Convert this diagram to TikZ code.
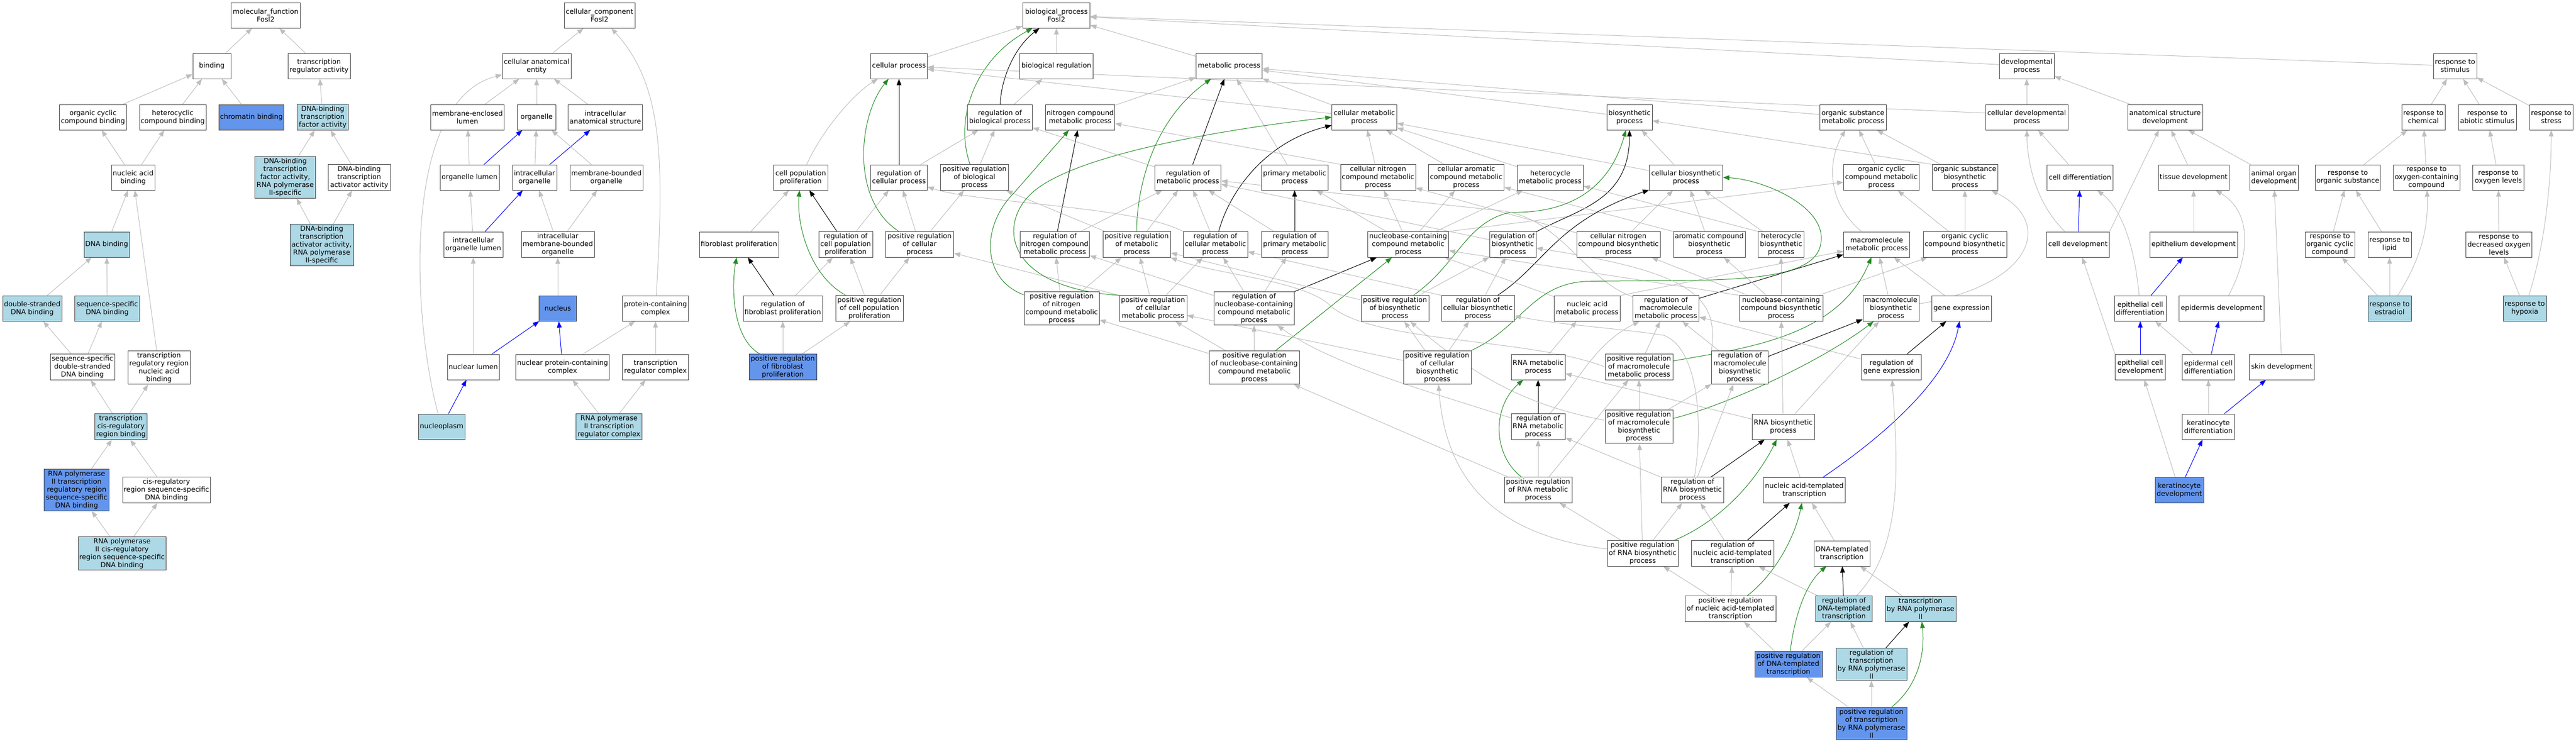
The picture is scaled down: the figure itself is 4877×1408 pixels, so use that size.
\documentclass[tikz,border=0pt]{standalone}
\usepackage{fontspec}
\setmainfont{DejaVu Sans}
\usepackage{tikz}
\usetikzlibrary{arrows.meta, backgrounds}

\definecolor{edgegray}{HTML}{BEBEBE}
\definecolor{annblue}{HTML}{6495ED}
\definecolor{ancblue}{HTML}{ADD8E6}
\definecolor{posgreen}{HTML}{228B22}

\tikzset{
	go/.style = {draw = black!75, line width = 0.9pt, rectangle, fill = white, align = center, inner xsep = 2pt, inner ysep = 3pt, minimum height = 48pt, font = \fontsize{13}{15}\selectfont},
	goann/.style = {go, fill = annblue},
	goanc/.style = {go, fill = ancblue},
	isa/.style = {draw = edgegray, line width = 1pt, -{Triangle[length = 12pt, width = 9pt]}},
	regs/.style = {isa, draw = black},
	posregs/.style = {isa, draw = posgreen},
	partof/.style = {isa, draw = blue}
}

\begin{document}
\begin{tikzpicture}[x = 1pt, y = -1pt]
	\useasboundingbox (0, 0) rectangle (4877, 1408);

	\node[go, minimum width = 131pt] (mf) at (503, 29) {molecular\_function\\Fosl2};
	\node[go, minimum width = 72pt] (binding) at (401, 125) {binding};
	\node[go, minimum width = 118pt] (tra) at (604, 125) {transcription\\regulator activity};
	\node[go, minimum width = 127pt] (occb) at (176, 222) {organic cyclic\\compound binding};
	\node[go, minimum width = 126pt] (hcb) at (327, 222) {heterocyclic\\compound binding};
	\node[goann, minimum width = 123pt] (chrom) at (476, 222) {chromatin binding};
	\node[goanc, minimum width = 97pt] (dbtf) at (611, 222) {DNA-binding\\transcription\\factor activity};
	\node[go, minimum width = 82pt] (nab) at (252, 336) {nucleic acid\\binding};
	\node[goanc, minimum width = 115pt] (dbtf2) at (540, 336) {DNA-binding\\transcription\\factor activity,\\RNA polymerase\\II-specific};
	\node[go, minimum width = 118pt] (dbta) at (680, 336) {DNA-binding\\transcription\\activator activity};
	\node[goanc, minimum width = 86pt] (dnab) at (202, 463) {DNA binding};
	\node[goanc, minimum width = 120pt] (dbta2) at (609, 464) {DNA-binding\\transcription\\activator activity,\\RNA polymerase\\II-specific};
	\node[goanc, minimum width = 112pt] (dsdb) at (61, 584) {double-stranded\\DNA binding};
	\node[goanc, minimum width = 123pt] (ssdb) at (203, 584) {sequence-specific\\DNA binding};
	\node[go, minimum width = 122pt] (ssds) at (156, 695) {sequence-specific\\double-stranded\\DNA binding};
	\node[go, minimum width = 118pt] (trrn) at (301, 696) {transcription\\regulatory region\\nucleic acid\\binding};
	\node[goanc, minimum width = 99pt] (tcrb) at (229, 808) {transcription\\cis-regulatory\\region binding};
	\node[goann, minimum width = 123pt] (p2trr) at (145, 928) {RNA polymerase\\II transcription\\regulatory region\\sequence-specific\\DNA binding};
	\node[go, minimum width = 166pt] (crss) at (315, 928) {cis-regulatory\\region sequence-specific\\DNA binding};
	\node[goanc, minimum width = 166pt] (p2cr) at (231, 1048) {RNA polymerase\\II cis-regulatory\\region sequence-specific\\DNA binding};

	\node[go, minimum width = 134pt] (cc) at (1135, 29) {cellular\_component\\Fosl2};
	\node[go, minimum width = 130pt] (cae) at (1016, 125) {cellular anatomical\\entity};
	\node[go, minimum width = 139pt] (mel) at (885, 222) {membrane-enclosed\\lumen};
	\node[go, minimum width = 73pt] (org) at (1016, 222) {organelle};
	\node[go, minimum width = 141pt] (ias) at (1146, 222) {intracellular\\anatomical structure};
	\node[go, minimum width = 112pt] (orgl) at (889, 336) {organelle lumen};
	\node[go, minimum width = 84pt] (iorg) at (1012, 336) {intracellular\\organelle};
	\node[go, minimum width = 138pt] (mbo) at (1148, 336) {membrane-bounded\\organelle};
	\node[go, minimum width = 112pt] (iol) at (896, 463) {intracellular\\organelle lumen};
	\node[go, minimum width = 138pt] (imbo) at (1056, 463) {intracellular\\membrane-bounded\\organelle};
	\node[goann, minimum width = 71pt] (nucleus) at (1056, 584) {nucleus};
	\node[go, minimum width = 125pt] (pcc) at (1241, 584) {protein-containing\\complex};
	\node[go, minimum width = 98pt] (nlum) at (896, 695) {nuclear lumen};
	\node[go, minimum width = 177pt] (npcc) at (1065, 695) {nuclear protein-containing\\complex};
	\node[go, minimum width = 125pt] (trc) at (1241, 695) {transcription\\regulator complex};
	\node[goanc, minimum width = 88pt] (nplasm) at (836, 808) {nucleoplasm};
	\node[goanc, minimum width = 125pt] (p2trc) at (1153, 808) {RNA polymerase\\II transcription\\regulator complex};

	\node[go, minimum width = 103pt] (cpp) at (1516, 336) {cell population\\proliferation};
	\node[go, minimum width = 150pt] (fp) at (1399, 463) {fibroblast proliferation};
	\node[go, minimum width = 102pt] (rcpp) at (1601, 463) {regulation of\\cell population\\proliferation};
	\node[go, minimum width = 150pt] (rfp) at (1482, 584) {regulation of\\fibroblast proliferation};
	\node[go, minimum width = 128pt] (prcpp) at (1646, 584) {positive regulation\\of cell population\\proliferation};
	\node[goann, minimum width = 128pt] (prfp) at (1482, 695) {positive regulation\\of fibroblast\\proliferation};

	\node[go, minimum width = 127pt] (bp) at (2000, 29) {biological\_process\\Fosl2};
	\node[go, minimum width = 107pt] (cp) at (1702, 125) {cellular process};
	\node[go, minimum width = 139pt] (br) at (2000, 125) {biological regulation};
	\node[go, minimum width = 125pt] (mp) at (2327, 125) {metabolic process};
	\node[go, minimum width = 104pt] (devp) at (3837, 125) {developmental\\process};
	\node[go, minimum width = 82pt] (rstim) at (4648, 125) {response to\\stimulus};
	\node[go, minimum width = 123pt] (rbp) at (1893, 222) {regulation of\\biological process};
	\node[go, minimum width = 131pt] (ncmp) at (2045, 222) {nitrogen compound\\metabolic process};
	\node[go, minimum width = 123pt] (cmp) at (2583, 222) {cellular metabolic\\process};
	\node[go, minimum width = 86pt] (bsp) at (3085, 222) {biosynthetic\\process};
	\node[go, minimum width = 126pt] (osmp) at (3508, 222) {organic substance\\metabolic process};
	\node[go, minimum width = 156pt] (cdp) at (3837, 222) {cellular developmental\\process};
	\node[go, minimum width = 142pt] (asd) at (4099, 222) {anatomical structure\\development};
	\node[go, minimum width = 82pt] (rchem) at (4588, 222) {response to\\chemical};
	\node[go, minimum width = 110pt] (rabio) at (4709, 222) {response to\\abiotic stimulus};
	\node[go, minimum width = 82pt] (rstress) at (4830, 222) {response to\\stress};

	\node[go, minimum width = 107pt] (rcp) at (1702, 336) {regulation of\\cellular process};
	\node[go, minimum width = 129pt] (prbp) at (1845, 336) {positive regulation\\of biological\\process};
	\node[go, minimum width = 125pt] (rmp) at (2249, 336) {regulation of\\metabolic process};
	\node[go, minimum width = 126pt] (pmp) at (2451, 336) {primary metabolic\\process};
	\node[go, minimum width = 142pt] (cncmp) at (2609, 336) {cellular nitrogen\\compound metabolic\\process};
	\node[go, minimum width = 143pt] (camp) at (2776, 336) {cellular aromatic\\compound metabolic\\process};
	\node[go, minimum width = 125pt] (hmp) at (2935, 336) {heterocycle\\metabolic process};
	\node[go, minimum width = 139pt] (cbp) at (3192, 336) {cellular biosynthetic\\process};
	\node[go, minimum width = 143pt] (occmp) at (3562, 336) {organic cyclic\\compound metabolic\\process};
	\node[go, minimum width = 124pt] (osbp) at (3720, 336) {organic substance\\biosynthetic\\process};
	\node[go, minimum width = 125pt] (cdiff) at (3938, 336) {cell differentiation};
	\node[go, minimum width = 134pt] (tdev) at (4153, 336) {tissue development};
	\node[go, minimum width = 92pt] (aod) at (4305, 336) {animal organ\\development};
	\node[go, minimum width = 123pt] (rorg) at (4445, 336) {response to\\organic substance};
	\node[go, minimum width = 126pt] (roxc) at (4594, 336) {response to\\oxygen-containing\\compound};
	\node[go, minimum width = 97pt] (roxl) at (4730, 336) {response to\\oxygen levels};

	\node[go, minimum width = 129pt] (prcp) at (1741, 463) {positive regulation\\of cellular\\process};
	\node[go, minimum width = 131pt] (rncmp) at (1997, 463) {regulation of\\nitrogen compound\\metabolic process};
	\node[go, minimum width = 128pt] (prmp) at (2152, 463) {positive regulation\\of metabolic\\process};
	\node[go, minimum width = 122pt] (rcmp) at (2301, 463) {regulation of\\cellular metabolic\\process};
	\node[go, minimum width = 126pt] (rpmp) at (2451, 463) {regulation of\\primary metabolic\\process};
	\node[go, minimum width = 153pt] (nbcmp) at (2666, 463) {nucleobase-containing\\compound metabolic\\process};
	\node[go, minimum width = 88pt] (rbsp) at (2864, 463) {regulation of\\biosynthetic\\process};
	\node[go, minimum width = 158pt] (cncbp) at (3064, 463) {cellular nitrogen\\compound biosynthetic\\process};
	\node[go, minimum width = 136pt] (acbp) at (3236, 463) {aromatic compound\\biosynthetic\\process};
	\node[go, minimum width = 87pt] (hbp) at (3372, 463) {heterocycle\\biosynthetic\\process};
	\node[go, minimum width = 125pt] (mmp) at (3553, 463) {macromolecule\\metabolic process};
	\node[go, minimum width = 158pt] (occbp) at (3720, 463) {organic cyclic\\compound biosynthetic\\process};
	\node[go, minimum width = 119pt] (cdev) at (3934, 463) {cell development};
	\node[go, minimum width = 166pt] (edev) at (4153, 463) {epithelium development};
	\node[go, minimum width = 94pt] (rocc) at (4411, 463) {response to\\organic cyclic\\compound};
	\node[go, minimum width = 82pt] (rlip) at (4524, 463) {response to\\lipid};
	\node[go, minimum width = 125pt] (rdox) at (4731, 463) {response to\\decreased oxygen\\levels};

	\node[go, minimum width = 142pt] (prncmp) at (2010, 584) {positive regulation\\of nitrogen\\compound metabolic\\process};
	\node[go, minimum width = 128pt] (prcmp) at (2183, 584) {positive regulation\\of cellular\\metabolic process};
	\node[go, minimum width = 152pt] (rnbcmp) at (2374, 584) {regulation of\\nucleobase-containing\\compound metabolic\\process};
	\node[go, minimum width = 128pt] (prbsp) at (2641, 584) {positive regulation\\of biosynthetic\\process};
	\node[go, minimum width = 138pt] (rcbp) at (2798, 584) {regulation of\\cellular biosynthetic\\process};
	\node[go, minimum width = 125pt] (namp) at (3005, 584) {nucleic acid\\metabolic process};
	\node[go, minimum width = 125pt] (rmmp) at (3154, 584) {regulation of\\macromolecule\\metabolic process};
	\node[go, minimum width = 158pt] (nbcbp) at (3372, 584) {nucleobase-containing\\compound biosynthetic\\process};
	\node[go, minimum width = 106pt] (mbp) at (3580, 584) {macromolecule\\biosynthetic\\process};
	\node[go, minimum width = 113pt] (gexp) at (3714, 584) {gene expression};
	\node[go, minimum width = 98pt] (ecd) at (4052, 584) {epithelial cell\\differentiation};
	\node[go, minimum width = 161pt] (epd) at (4206, 584) {epidermis development};
	\node[goanc, minimum width = 82pt] (restr) at (4524, 584) {response to\\estradiol};
	\node[goanc, minimum width = 82pt] (rhyp) at (4780, 584) {response to\\hypoxia};

	\node[go, minimum width = 171pt] (prnbcmp) at (2375, 696) {positive regulation\\of nucleobase-containing\\compound metabolic\\process};
	\node[go, minimum width = 128pt] (prcbp) at (2721, 696) {positive regulation\\of cellular\\biosynthetic\\process};
	\node[go, minimum width = 102pt] (rnamp) at (2912, 695) {RNA metabolic\\process};
	\node[go, minimum width = 128pt] (prmmp) at (3103, 695) {positive regulation\\of macromolecule\\metabolic process};
	\node[go, minimum width = 107pt] (rmbp) at (3294, 696) {regulation of\\macromolecule\\biosynthetic\\process};
	\node[go, minimum width = 113pt] (rgexp) at (3581, 695) {regulation of\\gene expression};
	\node[go, minimum width = 95pt] (ecdev) at (4052, 695) {epithelial cell\\development};
	\node[go, minimum width = 99pt] (epcd) at (4181, 695) {epidermal cell\\differentiation};
	\node[go, minimum width = 123pt] (skin) at (4320, 695) {skin development};

	\node[go, minimum width = 102pt] (rrnamp) at (2912, 808) {regulation of\\RNA metabolic\\process};
	\node[go, minimum width = 128pt] (prmbp) at (3103, 808) {positive regulation\\of macromolecule\\biosynthetic\\process};
	\node[go, minimum width = 118pt] (rnabp) at (3376, 808) {RNA biosynthetic\\process};
	\node[go, minimum width = 99pt] (kdiff) at (4181, 808) {keratinocyte\\differentiation};

	\node[go, minimum width = 128pt] (prrnamp) at (2912, 928) {positive regulation\\of RNA metabolic\\process};
	\node[go, minimum width = 118pt] (rrnabp) at (3204, 928) {regulation of\\RNA biosynthetic\\process};
	\node[go, minimum width = 155pt] (natt) at (3416, 928) {nucleic acid-templated\\transcription};
	\node[goann, minimum width = 92pt] (kdev) at (4126, 928) {keratinocyte\\development};

	\node[go, minimum width = 134pt] (prrnabp) at (3110, 1048) {positive regulation\\of RNA biosynthetic\\process};
	\node[go, minimum width = 156pt] (rnatt) at (3280, 1048) {regulation of\\nucleic acid-templated\\transcription};
	\node[go, minimum width = 106pt] (dtt) at (3487, 1048) {DNA-templated\\transcription};

	\node[go, minimum width = 172pt] (prnatt) at (3276, 1153) {positive regulation\\of nucleic acid-templated\\transcription};
	\node[goanc, minimum width = 107pt] (rdtt) at (3491, 1153) {regulation of\\DNA-templated\\transcription};
	\node[goanc, minimum width = 134pt] (trp2) at (3636, 1153) {transcription\\by RNA polymerase\\II};

	\node[goann, minimum width = 128pt] (prdtt) at (3386, 1258) {positive regulation\\of DNA-templated\\transcription};
	\node[goanc, minimum width = 134pt] (rtrp2) at (3543, 1258) {regulation of\\transcription\\by RNA polymerase\\II};
	\node[goann, minimum width = 134pt] (prtrp2) at (3543, 1370) {positive regulation\\of transcription\\by RNA polymerase\\II};

	\begin{scope}[on background layer]
		\fill[white] (0, 0) rectangle (4877, 1408);

		\draw[isa] (binding) -- (mf);
		\draw[isa] (tra) -- (mf);
		\draw[isa] (occb) -- (binding);
		\draw[isa] (hcb) -- (binding);
		\draw[isa] (chrom) -- (binding);
		\draw[isa] (dbtf) -- (tra);
		\draw[isa] (nab) -- (occb);
		\draw[isa] (nab) -- (hcb);
		\draw[isa] (dbtf2) -- (dbtf);
		\draw[isa] (dbta) -- (dbtf);
		\draw[isa] (dnab) -- (nab);
		\draw[isa] (trrn) -- (nab);
		\draw[isa] (dbta2) -- (dbtf2);
		\draw[isa] (dbta2) -- (dbta);
		\draw[isa] (dsdb) -- (dnab);
		\draw[isa] (ssdb) -- (dnab);
		\draw[isa] (ssds) -- (dsdb);
		\draw[isa] (ssds) -- (ssdb);
		\draw[isa] (tcrb) -- (ssds);
		\draw[isa] (tcrb) -- (trrn);
		\draw[isa] (p2trr) -- (tcrb);
		\draw[isa] (crss) -- (tcrb);
		\draw[isa] (p2cr) -- (p2trr);
		\draw[isa] (p2cr) -- (crss);

		\draw[isa] (cae) -- (cc);
		\draw[isa] (pcc) .. controls (1258, 300) and (1255, 160) .. (cc);
		\draw[isa] (mel) -- (cae);
		\draw[isa] (org) -- (cae);
		\draw[isa] (ias) -- (cae);
		\draw[isa] (nplasm) .. controls (780, 600) and (760, 190) .. (cae);
		\draw[isa] (orgl) -- (mel);
		\draw[partof] (orgl) -- (org);
		\draw[isa] (iorg) -- (org);
		\draw[partof] (iorg) -- (ias);
		\draw[isa] (mbo) -- (org);
		\draw[isa] (iol) -- (orgl);
		\draw[partof] (iol) -- (iorg);
		\draw[isa] (imbo) -- (iorg);
		\draw[isa] (imbo) -- (mbo);
		\draw[isa] (nucleus) -- (imbo);
		\draw[isa] (nlum) -- (iol);
		\draw[partof] (nlum) -- (nucleus);
		\draw[partof] (npcc) -- (nucleus);
		\draw[isa] (npcc) -- (pcc);
		\draw[isa] (trc) -- (pcc);
		\draw[partof] (nplasm) -- (nlum);
		\draw[isa] (p2trc) -- (npcc);
		\draw[isa] (p2trc) -- (trc);

		\draw[isa] (cpp) .. controls (1560, 240) and (1620, 175) .. (cp);
		\draw[isa] (fp) -- (cpp);
		\draw[regs] (rcpp) -- (cpp);
		\draw[isa] (rcpp) -- (rcp);
		\draw[isa] (rfp) -- (rcpp);
		\draw[regs] (rfp) -- (fp);
		\draw[isa] (prcpp) -- (rcpp);
		\draw[isa] (prcpp) -- (prcp);
		\draw[posregs] (prcpp) .. controls (1530, 520) and (1508, 420) .. (cpp);
		\draw[isa] (prfp) -- (rfp);
		\draw[isa] (prfp) -- (prcpp);
		\draw[posregs] (prfp) .. controls (1385, 640) and (1385, 540) .. (fp);

		\draw[isa] (cp) -- (bp);
		\draw[isa] (br) -- (bp);
		\draw[isa] (mp) -- (bp);
		\draw[isa] (devp) -- (bp);
		\draw[isa] (rstim) -- (bp);
		\draw[isa] (rbp) -- (br);
		\draw[regs] (rbp) .. controls (1895, 150) and (1920, 90) .. (bp);
		\draw[isa] (prbp) -- (rbp);
		\draw[posregs] (prbp) .. controls (1805, 220) and (1850, 110) .. (bp);
		\draw[isa] (rcp) -- (rbp);
		\draw[regs] (rcp) -- (cp);
		\draw[isa] (prcp) -- (rcp);
		\draw[isa] (prcp) -- (prbp);
		\draw[posregs] (prcp) .. controls (1610, 380) and (1625, 220) .. (cp);

		\draw[isa] (ncmp) -- (mp);
		\draw[isa] (cmp) -- (mp);
		\draw[isa] (cmp) -- (cp);
		\draw[isa] (osmp) -- (mp);
		\draw[isa] (bsp) -- (mp);
		\draw[isa] (pmp) -- (mp);
		\draw[isa] ([yshift = 8pt]cdp.west) -- (cp);
		\draw[isa] (cdp) -- (devp);
		\draw[isa] (asd) -- (devp);
		\draw[isa] (rchem) -- (rstim);
		\draw[isa] (rabio) -- (rstim);
		\draw[isa] (rstress) -- (rstim);

		\draw[isa] (rmp) -- (rbp);
		\draw[regs] (rmp) -- (mp);
		\draw[isa] (rncmp) -- (rmp);
		\draw[regs] (rncmp) -- (ncmp);
		\draw[isa] (prmp) -- (rmp);
		\draw[isa] (prmp) -- (prbp);
		\draw[posregs] (prmp) .. controls (2152, 360) and (2180, 230) .. (mp);
		\draw[isa] (rcmp) -- (rmp);
		\draw[isa] (rcmp.north west) .. controls (2150, 390) and (1850, 385) .. (rcp);
		\draw[regs] (rcmp) .. controls (2325, 370) and (2390, 270) .. (cmp);
		\draw[isa] (rpmp) -- (rmp);
		\draw[regs] (rpmp) -- (pmp);
		\draw[isa] (prncmp) -- (rncmp);
		\draw[isa] (prncmp) -- (prmp);
		\draw[posregs] (prncmp) .. controls (1860, 530) and (1855, 430) .. (1920, 365) -- (ncmp);
		\draw[isa] (prcmp) -- (prmp);
		\draw[isa] (prcmp) -- (rcmp);
		\draw[isa] (prcmp.north west) -- (prcp);
		\draw[posregs] (prcmp.north west) .. controls (1900, 545) and (1885, 420) .. (1960, 360) .. controls (2060, 280) and (2400, 235) .. (cmp.west);
		\draw[isa] (rnbcmp) -- (rncmp);
		\draw[isa] (rnbcmp) -- (rcmp);
		\draw[isa] (rnbcmp) -- (rpmp);
		\draw[regs] (rnbcmp) -- (nbcmp);
		\draw[isa] (prnbcmp) -- (rnbcmp);
		\draw[isa] (prnbcmp) -- (prncmp);
		\draw[isa] (prnbcmp) -- (prcmp);
		\draw[posregs] (prnbcmp) -- (nbcmp);

		\draw[isa] (cncmp.north west) -- (ncmp);
		\draw[isa] (cncmp) -- (cmp);
		\draw[isa] (camp) -- (cmp);
		\draw[isa] (hmp) -- (cmp);
		\draw[isa] (cbp) -- (bsp);
		\draw[isa] (cbp) -- (cmp);
		\draw[isa] (osbp) -- (osmp);
		\draw[isa] (osbp.north west) -- (bsp);
		\draw[isa] (occmp) -- (osmp);
		\draw[isa] (nbcmp) -- (cncmp);
		\draw[isa] (nbcmp) -- (camp);
		\draw[isa] (nbcmp) -- (hmp);
		\draw[isa] (nbcmp) -- (pmp);
		\draw[isa] (nbcmp.north east) -- (occmp);
		\draw[isa] (rbsp) -- (rmp);
		\draw[regs] (rbsp) .. controls (2990, 395) and (3085, 380) .. (bsp);
		\draw[isa] (cncbp) -- (cncmp);
		\draw[isa] (cncbp) -- (cbp);
		\draw[isa] (acbp.north west) -- (camp);
		\draw[isa] (acbp) -- (cbp);
		\draw[isa] (hbp.north west) -- (hmp);
		\draw[isa] (hbp) -- (cbp);
		\draw[isa] (mmp) .. controls (3455, 380) and (3462, 300) .. (osmp);
		\draw[isa] (occbp) -- (occmp);
		\draw[isa] (occbp) -- (osbp);

		\draw[isa] (prbsp) -- (rbsp);
		\draw[isa] (prbsp) -- (prmp);
		\draw[posregs] (prbsp) .. controls (2760, 500) and (2775, 420) .. (2860, 402) .. controls (3000, 405) and (3055, 330) .. (bsp);
		\draw[isa] (rcbp) -- (rbsp);
		\draw[isa] (rcbp.north west) -- (rcmp);
		\draw[regs] (rcbp) .. controls (2925, 500) and (2945, 420) .. (cbp);
		\draw[isa] (namp) -- (nbcmp);
		\draw[isa] (namp.north east) -- (mmp);
		\draw[isa] (rmmp) .. controls (3000, 530) and (2960, 420) .. (2850, 400) -- (rmp);
		\draw[regs] (rmmp) -- (mmp);
		\draw[isa] (nbcbp.north west) -- (nbcmp);
		\draw[isa] (nbcbp) -- (cncbp);
		\draw[isa] (nbcbp) -- (acbp);
		\draw[isa] (nbcbp) -- (hbp);
		\draw[isa] (nbcbp) -- (occbp);
		\draw[isa] (mbp) -- (mmp);
		\draw[isa] (mbp) .. controls (3850, 540) and (3890, 420) .. (osbp);
		\draw[isa] (gexp) -- (mmp);

		\draw[isa] (prcbp) -- (prbsp);
		\draw[isa] (prcbp) -- (rcbp);
		\draw[isa] (prcbp) -- (prcmp);
		\draw[posregs] (prcbp.north east) .. controls (2880, 620) and (2900, 540) .. (3000, 533) .. controls (3200, 528) and (3420, 545) .. (3445, 470) .. controls (3470, 395) and (3340, 340) .. (cbp.east);
		\draw[isa] (rnamp) -- (namp);
		\draw[isa] (prmmp) -- (rmmp);
		\draw[isa] (prmmp.west) .. controls (2900, 640) and (2600, 650) .. (2520, 580) .. controls (2470, 530) and (2300, 520) .. (prmp);
		\draw[posregs] (prmmp) .. controls (3300, 660) and (3480, 640) .. (mmp);
		\draw[isa] (rmbp.north west) .. controls (3255, 560) and (3200, 515) .. (rbsp);
		\draw[isa] (rmbp) -- (rmmp);
		\draw[regs] (rmbp) -- (mbp);
		\draw[isa] (rgexp) -- (rmmp);
		\draw[regs] (rgexp) -- (gexp);

		\draw[isa] (rrnamp) .. controls (2700, 740) and (2520, 690) .. (rnbcmp);
		\draw[isa] (rrnamp) .. controls (2990, 720) and (3020, 650) .. (rmmp);
		\draw[regs] (rrnamp) -- (rnamp);
		\draw[isa] (prmbp) -- (prmmp);
		\draw[isa] (prmbp) -- (rmbp);
		\draw[isa] (prmbp) .. controls (2900, 770) and (2800, 720) .. (prbsp);
		\draw[posregs] (prmbp) .. controls (3260, 770) and (3440, 690) .. (mbp);
		\draw[isa] (rnabp) -- (rnamp);
		\draw[isa] (rnabp) -- (nbcbp);
		\draw[isa] (rnabp) -- (mbp);

		\draw[isa] (prrnamp) -- (rrnamp);
		\draw[isa] (prrnamp) -- (prnbcmp);
		\draw[isa] (prrnamp) -- (prmmp);
		\draw[posregs] (prrnamp) .. controls (2825, 860) and (2825, 770) .. (rnamp);
		\draw[isa] (rrnabp) -- (rrnamp);
		\draw[isa] (rrnabp) -- (rmbp);
		\draw[isa] (rrnabp) .. controls (3225, 800) and (3215, 660) .. (3150, 635) .. controls (3050, 620) and (2950, 615) .. (rcbp);
		\draw[regs] (rrnabp) -- (rnabp);
		\draw[isa] (natt) -- (rnabp);
		\draw[partof] (natt) .. controls (3560, 830) and (3690, 720) .. (gexp);

		\draw[isa] (prrnabp) -- (prrnamp);
		\draw[isa] (prrnabp) -- (prmbp);
		\draw[isa] (prrnabp) -- (rrnabp);
		\draw[isa] (prrnabp) .. controls (2800, 1010) and (2735, 880) .. (prcbp);
		\draw[posregs] (prrnabp) .. controls (3250, 990) and (3320, 920) .. (rnabp);
		\draw[isa] (rnatt) -- (rrnabp);
		\draw[regs] (rnatt) -- (natt);
		\draw[isa] (dtt) -- (natt);

		\draw[isa] (prnatt) -- (rnatt);
		\draw[isa] (prnatt) -- (prrnabp);
		\draw[posregs] (prnatt) .. controls (3365, 1084) and (3400, 1010) .. (natt);
		\draw[isa] (rdtt) -- (rnatt);
		\draw[regs] (rdtt) -- (dtt);
		\draw[isa] (rdtt) .. controls (3610, 1030) and (3590, 850) .. (rgexp);
		\draw[isa] (trp2) -- (dtt);
		\draw[isa] (prdtt) -- (prnatt);
		\draw[isa] (prdtt) -- (rdtt);
		\draw[posregs] (prdtt) .. controls (3400, 1150) and (3425, 1100) .. (dtt);
		\draw[isa] (rtrp2) -- (rdtt);
		\draw[regs] (rtrp2) -- (trp2);
		\draw[isa] (prtrp2) -- (prdtt);
		\draw[isa] (prtrp2) -- (rtrp2);
		\draw[posregs] (prtrp2) .. controls (3630, 1300) and (3645, 1240) .. (trp2);

		\draw[isa] (cdiff) -- (cdp);
		\draw[isa] (cdev) .. controls (3850, 380) and (3838, 300) .. (cdp);
		\draw[partof] (cdev) -- (cdiff);
		\draw[isa] (cdev.north east) -- (asd);
		\draw[isa] (tdev) -- (asd);
		\draw[isa] (aod) -- (asd);
		\draw[isa] (edev) -- (tdev);
		\draw[isa] (ecd) .. controls (4040, 450) and (4010, 390) .. (cdiff);
		\draw[partof] (ecd) -- (edev);
		\draw[isa] (epd) .. controls (4262, 480) and (4262, 400) .. (tdev);
		\draw[isa] (ecdev.north west) -- (cdev);
		\draw[partof] (ecdev) -- (ecd);
		\draw[isa] (epcd) -- (ecd);
		\draw[partof] (epcd) -- (epd);
		\draw[isa] (skin) -- (aod);
		\draw[isa] (kdiff) -- (epcd);
		\draw[partof] (kdiff) -- (skin);
		\draw[isa] (kdev) -- (ecdev);
		\draw[partof] (kdev) -- (kdiff);

		\draw[isa] (rorg) -- (rchem);
		\draw[isa] (roxc) -- (rchem);
		\draw[isa] (roxl) -- (rabio);
		\draw[isa] (rocc) -- (rorg);
		\draw[isa] (rlip) -- (rorg);
		\draw[isa] (rdox) -- (roxl);
		\draw[isa] (restr) -- (rocc);
		\draw[isa] (restr) -- (rlip);
		\draw[isa] (restr) .. controls (4590, 480) and (4597, 420) .. (roxc);
		\draw[isa] (rhyp) -- (rdox);
		\draw[isa] (rhyp) .. controls (4822, 450) and (4830, 330) .. (rstress);
	\end{scope}
\end{tikzpicture}
\end{document}
